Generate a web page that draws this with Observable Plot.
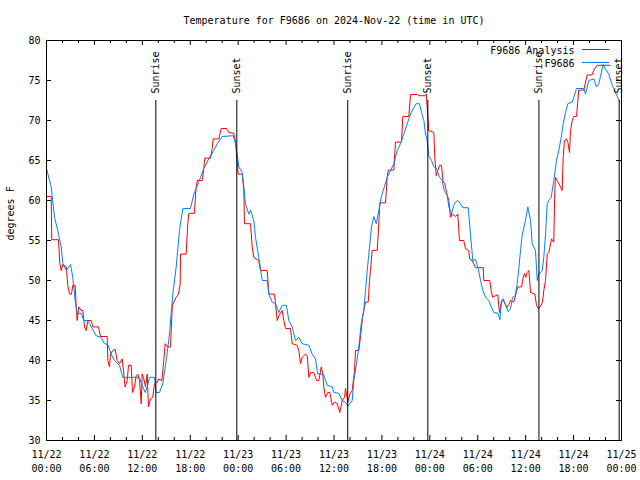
<!DOCTYPE html>
<html><head><meta charset="utf-8">
<script src="https://cdn.jsdelivr.net/npm/d3@7"></script>
<script src="https://cdn.jsdelivr.net/npm/@observablehq/plot@0.6"></script>
<style>body{margin:0;background:#fff} svg{display:block}</style>
</head><body><div id="chart"></div>
<script>
const titleText = "Temperature for F9686 on 2024-Nov-22 (time in UTC)";
const yLabel = "degrees F";
const startDate = "2024-11-22T00:00:00Z";
const obsName = "F9686";
const anaName = "F9686 Analysis";

// hours since 11/22 00:00 UTC, observed temperature (F)
const obsHours = [0,0.59,1.00,1.41,1.84,2.04,2.47,3.01,3.29,3.59,3.84,4.35,4.67,5.17,5.60,6.22,6.85,7.26,7.68,8.10,8.52,9.14,9.55,11.02,11.65,12.06,12.36,12.69,12.90,13.52,13.74,14.15,14.56,14.99,15.40,15.82,16.24,16.65,17.07,18.03,18.45,19.07,19.70,20.32,20.95,21.38,22.00,23.38,23.67,23.88,24.08,24.51,24.71,24.92,25.33,25.55,25.96,26.17,26.58,27.01,27.64,27.84,28.26,28.68,29.09,29.51,30.05,30.34,30.77,31.18,31.59,32.02,32.85,33.27,33.68,33.97,34.69,34.81,35.15,35.78,35.98,36.60,37.03,37.44,37.73,38.28,38.48,38.82,39.11,39.41,39.73,39.95,40.16,40.36,40.70,40.99,41.29,41.61,41.95,42.24,42.66,43.08,43.49,43.92,44.33,44.74,45.17,45.58,45.99,46.29,46.71,46.96,47.25,47.46,47.67,47.87,48.21,48.50,48.84,49.21,49.55,49.80,50.18,50.38,50.71,51.00,51.21,51.50,51.84,52.13,52.81,53.09,53.38,53.72,54.06,54.35,54.64,54.98,55.39,55.69,56.02,56.52,56.77,56.98,57.20,57.48,57.82,58.11,58.36,58.69,58.94,59.14,59.36,59.57,59.98,60.27,60.61,60.82,61.23,61.45,61.65,62.07,62.27,62.49,62.70,62.90,63.20,63.52,63.86,64.15,64.45,64.70,64.99,65.28,65.83,66.03,66.37,67.28,67.49,67.91,68.54,68.87,69.16,69.37,69.71,70.00,70.41,70.84,71.25,71.79];
const obsTemps = [64,61.7,57.9,56.25,54.2,52.1,51.25,52,50.4,47.5,45.9,45.9,45,45,44.2,43.1,42.9,42.1,42,40.8,40,39.4,37.9,37.9,37.8,36.7,36,37,37.9,37.9,36,36,37.1,40,43.3,48.3,51.7,56.25,59,59,60.8,62.3,64,65.2,66.25,67.1,68,68.1,67.1,65.8,64.2,63.5,61.7,59.6,58.3,58.8,57.5,55.4,52.9,50,50,48.3,47.3,47.1,46,46.9,46.9,45,44.2,42.5,42.9,42.1,41.9,40.8,40.2,38.3,38.3,37.9,36.9,36.7,36,35.9,35,34.8,34.3,35,37.5,39.6,41.7,44.6,46.25,48.75,51.25,53.3,56.7,58,57.1,58.75,60.6,61.5,62.9,63.75,64.6,66.25,67.1,68.3,69.6,70.8,71.6,72.1,72.1,71,70,68.3,67.5,65.6,65,64.2,64,62.9,62.5,61.25,60.6,59.2,58.3,59.4,59.8,60,59.6,59.1,59.1,55.8,52.5,52.6,51.5,50,48.75,47.9,47.5,46.7,46,45.9,45.1,47.5,47.7,46.9,46.1,46.5,47.9,48.1,49.6,51.5,53.75,55.7,57.5,59.2,57.5,54.6,53.75,50,50.8,51.25,52.9,55.8,59.6,60,60.4,62.5,65,66.25,67.9,69.6,71,72.1,72.3,72.9,74,74,73.3,75,75.2,74.2,74.6,75.5,77,76.4,75.8,74.4,73.5,72.3];

// hours since 11/22 00:00 UTC, analysis temperature (F)
const anaHours = [0,0.59,0.66,1.50,1.67,1.84,2.04,2.47,2.67,2.88,3.13,3.29,3.59,3.72,3.84,4.04,4.35,4.55,4.76,4.97,5.17,5.60,5.80,6.51,6.76,7.60,7.68,7.89,8.01,8.30,8.60,8.85,9.14,9.48,9.68,9.85,10.11,10.27,10.61,10.77,11.02,11.23,11.43,11.65,11.86,11.98,12.18,12.40,12.61,12.77,13.02,13.31,13.52,13.86,14.06,14.44,14.69,14.86,15.19,15.53,15.74,15.94,16.24,16.53,16.74,16.78,17.49,17.69,17.82,18.53,18.66,18.87,19.50,19.70,19.82,20.54,20.75,20.87,21.58,21.88,22.54,22.83,23.45,23.67,23.79,24.00,24.51,24.71,24.79,25.55,25.76,25.96,26.58,26.80,27.64,27.84,28.55,28.76,28.89,29.09,29.51,29.72,29.93,30.55,30.77,31.39,31.59,31.81,32.02,32.43,32.65,32.85,33.06,33.47,33.81,34.10,34.40,34.60,34.72,34.94,35.22,35.48,35.78,36.06,36.40,36.73,37.03,37.32,37.44,37.73,37.98,38.28,38.40,38.57,38.69,39.11,39.41,39.57,39.73,39.95,40.28,40.45,40.57,40.78,41.41,41.54,41.74,42.45,42.66,42.79,43.49,43.70,44.45,44.62,45.37,45.58,46.42,46.62,47.37,47.55,47.67,47.87,48.50,48.62,48.80,49.00,49.21,49.46,49.63,49.88,50.09,50.38,50.59,50.80,51.21,51.50,51.71,52.25,52.46,52.87,53.00,53.30,53.72,54.68,54.76,55.51,55.68,55.88,56.22,56.51,56.72,56.98,57.20,57.48,57.69,57.89,58.11,58.52,58.82,59.02,59.49,59.65,59.86,60.02,60.20,60.40,60.61,61.15,61.36,61.57,61.86,62.11,62.27,62.49,62.70,62.90,63.24,63.52,63.65,63.74,63.95,64.36,64.57,64.70,64.86,65.11,65.28,65.49,65.62,65.83,66.03,66.37,66.64,67.28,67.70,68.33,68.54,68.96,70.54];
const anaTemps = [60.5,60.5,55.1,55.1,52.1,51.25,52,51.7,49.4,48.3,48.3,49.4,49.4,46.7,45,46.7,46.25,46.25,44.2,43.75,45,45,44.2,44.2,43,43,40,39.2,40.8,41.25,41.4,40,39.6,40.2,38.3,36.7,37.5,39.4,39.4,36,36.7,38.1,38.3,37.5,34.6,38.3,37.7,36.7,38.3,34.2,35.2,35.4,37.1,37.3,37.7,37.5,40,42.1,41.7,41.7,46.7,47.3,47.9,48.3,49.6,53.3,53.3,57.1,58.4,58.4,60.8,62.5,62.5,64,65.3,65.3,66.5,67.7,67.7,69,69,68.5,68.4,67.3,66,63.3,63.3,61.25,57.1,57.1,54.2,52.9,52.5,51.25,51.25,48.3,48.3,46.25,45,45.6,46.25,45,44,44,42.1,41.9,41.25,39.6,40.4,40.8,40.6,37.9,38.5,38.5,37.5,37.5,39.2,38.3,36.7,35.4,36,36,34.4,34.8,34.6,33.5,35,35.4,36.5,34.8,35.8,36.25,37.3,38.75,41.25,41.25,43.75,45.4,46.25,47.3,47.3,50,51.25,53.75,53.8,55.8,59.7,59.7,62.9,63.8,63.8,67.3,67.3,70.5,70.5,73.25,73.25,73.1,73.1,73.3,71.7,68.75,68.5,65.4,63.1,63.75,64.4,64.4,62.5,62.1,61,60,57.9,58.3,58,58.3,55,55,54,53.75,52.7,52.5,51.6,51.6,50,50,48.75,47.9,48.1,48.2,46,47.3,47.5,47,46.7,47,47.5,47.3,48.5,49.2,49.2,50.2,50.9,50.4,51,51.25,48.5,48.3,46.9,46.5,46.75,47.3,48.75,50,53.3,53.5,55.2,54.8,61.25,62.9,62.5,61.7,61.25,65.4,67.5,67.7,67.3,66,68.75,70,70.5,70.5,73.8,73.8,75.7,75.7,76.3,76.9,76.9];

const sunLabels = ["Sunrise","Sunset","Sunrise","Sunset","Sunrise","Sunset"];
const sunHours = [13.69, 23.83, 37.72, 47.75, 61.66, 71.71];
const xMajorHours = [0,6,12,18,24,30,36,42,48,54,60,66,72];
const xMinorHours = [2,4,8,10,14,16,20,22,26,28,32,34,38,40,44,46,50,52,56,58,62,64,68,70];
const yTicks = [30,35,40,45,50,55,60,65,70,75,80];

const t0 = new Date(startDate).getTime();
const toDate = h => new Date(t0 + h * 3600000);
const obs = obsHours.map((h, i) => ({t: toDate(h), v: obsTemps[i]}));
const ana = anaHours.map((h, i) => ({t: toDate(h), v: anaTemps[i]}));
const sun = sunHours.map((h, i) => ({t: toDate(h), label: sunLabels[i]}));
const xMajor = xMajorHours.map(toDate);
const xMinor = xMinorHours.map(toDate);

const W = 640, H = 480, mL = 46, mR = 19, mT = 40, mB = 40;
const innerW = W - mL - mR, innerH = H - mT - mB;
const red = "#ff0000", blue = "#0080ff";
const fmt = d3.utcFormat("%m/%d\n%H:%M");

const chart = Plot.plot({
  width: W, height: H,
  marginLeft: mL, marginRight: mR, marginTop: mT, marginBottom: mB,
  style: {fontFamily: "'DejaVu Sans Mono', monospace", fontSize: "10px", color: "black", background: "white"},
  x: {type: "utc", domain: [toDate(0), toDate(72)]},
  y: {domain: [30, 80]},
  marks: [
    Plot.line(ana, {x: "t", y: "v", stroke: red, strokeWidth: 1}),
    Plot.line(obs, {x: "t", y: "v", stroke: blue, strokeWidth: 1}),
    Plot.ruleX(sun, {x: "t", insetTop: 60, stroke: "black", strokeWidth: 1}),
    Plot.text(sun, {x: "t", text: "label", rotate: -90, frameAnchor: "top", dy: 53, textAnchor: "start", lineAnchor: "middle", fill: "black"}),
    Plot.frame({stroke: "black"}),
    Plot.axisX({ticks: xMajor, tickFormat: fmt, tickSize: 0, tickPadding: 8, lineHeight: 1.4, label: null}),
    Plot.axisY({ticks: yTicks, tickSize: 0, tickPadding: 6, label: null}),
    Plot.tickX(xMajor, {x: d => d, insetTop: innerH - 5, stroke: "black"}),
    Plot.tickX(xMajor, {x: d => d, insetBottom: innerH - 5, stroke: "black"}),
    Plot.tickX(xMinor, {x: d => d, insetTop: innerH - 3, stroke: "black"}),
    Plot.tickX(xMinor, {x: d => d, insetBottom: innerH - 3, stroke: "black"}),
    Plot.tickY(yTicks, {y: d => d, insetRight: innerW - 5, stroke: "black"}),
    Plot.tickY(yTicks, {y: d => d, insetLeft: innerW - 5, stroke: "black"}),
    Plot.text([yLabel], {frameAnchor: "left", rotate: -90, dx: -36, fill: "black"}),
    Plot.text([titleText], {frameAnchor: "top", dy: -20, lineAnchor: "middle", fill: "black"}),
    Plot.text([anaName], {frameAnchor: "top-right", dx: -47, dy: 10, textAnchor: "end", lineAnchor: "middle", fill: "black"}),
    Plot.text([obsName], {frameAnchor: "top-right", dx: -47, dy: 23, textAnchor: "end", lineAnchor: "middle", fill: "black"})
  ]
});

// legend line samples
const svg = d3.select(chart);
const lx1 = W - mR - 39, lx2 = W - mR - 12;
svg.append("line").attr("x1", lx1).attr("x2", lx2).attr("y1", mT + 9.5).attr("y2", mT + 9.5).attr("stroke", red).attr("stroke-width", 1);
svg.append("line").attr("x1", lx1).attr("x2", lx2).attr("y1", mT + 22.5).attr("y2", mT + 22.5).attr("stroke", blue).attr("stroke-width", 1);

document.getElementById("chart").appendChild(chart);
</script></body></html>
